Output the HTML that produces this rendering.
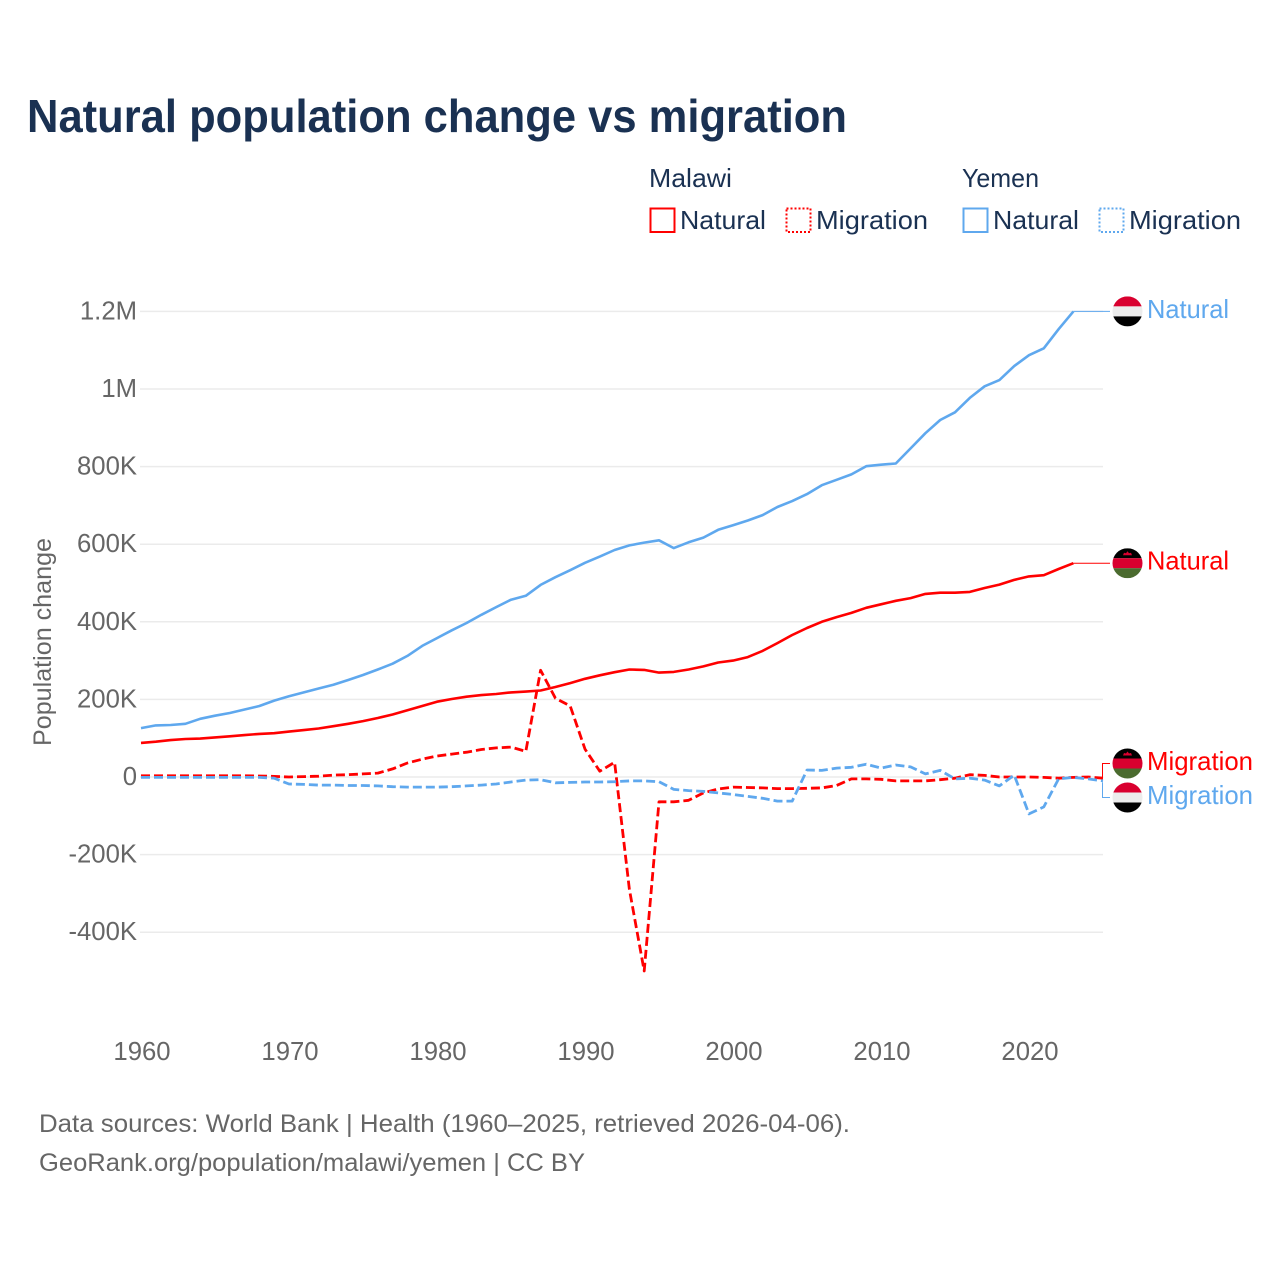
<!DOCTYPE html>
<html lang="en">
<head>
<meta charset="utf-8">
<title>Natural population change vs migration</title>
<style>
html,body{margin:0;padding:0;background:#fff;}
svg{display:block;font-family:"Liberation Sans",Arial,sans-serif;}
.tick{font-size:25.7px;fill:#666;}
.legend{font-size:26px;fill:#1a3152;}
.lab{font-size:26px;}
.src{font-size:25px;fill:#666;}
</style>
</head>
<body>
<svg id="chart" width="1280" height="1280" viewBox="0 0 1280 1280" xmlns="http://www.w3.org/2000/svg">
<defs>
<clipPath id="flag-clip"><circle cx="0" cy="0" r="15"/></clipPath>
</defs>
<rect width="1280" height="1280" fill="#fff"/>
<text x="27" y="132" font-size="46" font-weight="700" fill="#1a3152" textLength="820" lengthAdjust="spacingAndGlyphs">Natural population change vs migration</text>

<g>
<text class="legend" x="649" y="187" textLength="83" lengthAdjust="spacingAndGlyphs">Malawi</text>
<text class="legend" x="962" y="187" textLength="77" lengthAdjust="spacingAndGlyphs">Yemen</text>
<rect x="650.5" y="208.5" width="24" height="23.5" fill="none" stroke="#ff0000" stroke-width="2"/>
<text class="legend" x="680" y="229" textLength="86" lengthAdjust="spacingAndGlyphs">Natural</text>
<rect x="786.5" y="208.5" width="24" height="23.5" fill="none" stroke="#ff0000" stroke-width="2" stroke-dasharray="2 2"/>
<text class="legend" x="816" y="229" textLength="112" lengthAdjust="spacingAndGlyphs">Migration</text>
<rect x="963.5" y="208.5" width="24" height="23.5" fill="none" stroke="#5fa8ee" stroke-width="2"/>
<text class="legend" x="993" y="229" textLength="86" lengthAdjust="spacingAndGlyphs">Natural</text>
<rect x="1099.5" y="208.5" width="24" height="23.5" fill="none" stroke="#5fa8ee" stroke-width="2" stroke-dasharray="2 2"/>
<text class="legend" x="1129" y="229" textLength="112" lengthAdjust="spacingAndGlyphs">Migration</text>
</g>

<g id="grid"></g>
<g id="yticks"></g>
<g id="xticks"></g>
<text transform="translate(51,642) rotate(-90)" text-anchor="middle" font-size="25" fill="#666" textLength="208" lengthAdjust="spacingAndGlyphs">Population change</text>
<g id="series"></g>
<g id="connectors"></g>

<g id="flag-yemen-natural" clip-path="url(#flag-clip)">
<rect x="-15" y="-15" width="30" height="10" fill="#d9002f"/><rect x="-15" y="-5" width="30" height="10" fill="#ececec"/><rect x="-15" y="5" width="30" height="10" fill="#000"/>
</g>
<g id="flag-malawi-natural" clip-path="url(#flag-clip)">
<rect x="-15" y="-15" width="30" height="10" fill="#000"/><rect x="-15" y="-5" width="30" height="10" fill="#d9002f"/><rect x="-15" y="5" width="30" height="10" fill="#4b6b2f"/><path d="M-4.5 -8 L-3.5 -10.5 L-1.5 -10 L0 -12 L1.5 -10 L3.5 -10.5 L4.5 -8Z" fill="#d9002f"/>
</g>
<g transform="translate(1127.5,763.5)" clip-path="url(#flag-clip)">
<rect x="-15" y="-15" width="30" height="10" fill="#000"/><rect x="-15" y="-5" width="30" height="10" fill="#d9002f"/><rect x="-15" y="5" width="30" height="10" fill="#4b6b2f"/><path d="M-4.5 -8 L-3.5 -10.5 L-1.5 -10 L0 -12 L1.5 -10 L3.5 -10.5 L4.5 -8Z" fill="#d9002f"/>
</g>
<g transform="translate(1127.5,797.5)" clip-path="url(#flag-clip)">
<rect x="-15" y="-15" width="30" height="10" fill="#d9002f"/><rect x="-15" y="-5" width="30" height="10" fill="#ececec"/><rect x="-15" y="5" width="30" height="10" fill="#000"/>
</g>

<text id="label-yemen-natural" class="lab" x="1147" fill="#5fa8ee" textLength="82" lengthAdjust="spacingAndGlyphs">Natural</text>
<text id="label-malawi-natural" class="lab" x="1147" fill="#ff0000" textLength="82" lengthAdjust="spacingAndGlyphs">Natural</text>
<text class="lab" x="1147" y="770" fill="#ff0000" textLength="106" lengthAdjust="spacingAndGlyphs">Migration</text>
<text class="lab" x="1147" y="804" fill="#5fa8ee" textLength="106" lengthAdjust="spacingAndGlyphs">Migration</text>

<text class="src" x="39" y="1132" textLength="811" lengthAdjust="spacingAndGlyphs">Data sources: World Bank | Health (1960–2025, retrieved 2026-04-06).</text>
<text class="src" x="39" y="1171" textLength="546" lengthAdjust="spacingAndGlyphs">GeoRank.org/population/malawi/yemen | CC BY</text>
</svg>
<script>
// Values in thousands of people
const startYear = 1960;
const yTickValues = [1200, 1000, 800, 600, 400, 200, 0, -200, -400];
const yTickLabels = ['1.2M', '1M', '800K', '600K', '400K', '200K', '0', '-200K', '-400K'];
const xTickYears = [1960, 1970, 1980, 1990, 2000, 2010, 2020];
const yemenNatural = [126,133,134,137,150,158,165,174,183,197,208,218,228,238,250,263,277,292,312,338,358,378,397,418,438,457,467,495,515,533,552,568,585,597,604,610,590,605,617,637,649,661,675,696,711,729,752,766,780,801,805,808,847,886,920,940,977,1007,1023,1059,1087,1105,1154,1200];
const malawiNatural = [88,91,95,98,99,102,105,108,111,113,117,121,125,131,137,144,152,161,172,183,194,201,207,211,214,218,220,223,232,242,253,262,270,277,276,269,271,277,285,295,300,309,325,345,366,384,400,412,423,436,445,454,461,472,475,475,477,487,496,508,517,520,536,551];
const malawiMigration = [3,3,3,3,3,3,3,3,2.5,1.5,0,1,2,5,6,8,10,21,36,46,54,59,64,71,75,77,66,275,203,183,72,15,38,-290,-500,-64,-64,-60,-41,-31,-26,-27,-28,-30,-30,-29,-28,-22,-5,-5,-6,-10,-10,-10,-7,-3,6,4,0,0,0,-1,-3,-1,0,-3];
const yemenMigration = [-1,-1,-1,-1,-1,-1,-1,-1,-1,-3,-18,-19,-21,-21,-22,-22,-23,-25,-26,-26,-26,-25,-23,-21,-18,-13,-8,-7,-15,-14,-13,-13,-12,-10,-10,-12,-32,-35,-37,-41,-45,-50,-55,-62,-62,18,17,23,25,33,23,31,26,8,17,-5,-3,-8,-23,5,-95,-77,-5,-1,-5,-10];

const NS = 'http://www.w3.org/2000/svg';
const RED = '#ff0000';
const BLUE = '#5fa8ee';
function xScale(year) { return 141 + (year - startYear) * 14.8; }
function yScale(v) { return 777 - v * 0.388; }
function linePath(values) {
  return values.map(function (v, i) {
    return (i ? 'L' : 'M') + xScale(startYear + i).toFixed(1) + ' ' + yScale(v).toFixed(1);
  }).join(' ');
}
const grid = document.getElementById('grid');
const yticks = document.getElementById('yticks');
const xticks = document.getElementById('xticks');
const series = document.getElementById('series');
const connectors = document.getElementById('connectors');

yTickValues.forEach(function (v, i) {
  const ln = document.createElementNS(NS, 'line');
  
  
  ln.setAttribute('x1', 140);
  ln.setAttribute('x2', 1103);
  ln.setAttribute('y1', yScale(v));
  ln.setAttribute('y2', yScale(v));
  ln.setAttribute('stroke', '#ebebeb');
  ln.setAttribute('stroke-width', 1.5);
  grid.appendChild(ln);
  const t = document.createElementNS(NS, 'text');
  
  
  t.setAttribute('class', 'tick');
  t.setAttribute('x', 137);
  t.setAttribute('y', yScale(v) + 8);
  t.setAttribute('text-anchor', 'end');
  t.textContent = yTickLabels[i];
  yticks.appendChild(t);
});

xTickYears.forEach(function (yr) {
  const t = document.createElementNS(NS, 'text');
  
  
  t.setAttribute('class', 'tick');
  t.setAttribute('x', xScale(yr) + 1);
  t.setAttribute('y', 1060);
  t.setAttribute('text-anchor', 'middle');
  t.textContent = yr;
  xticks.appendChild(t);
});

function addLine(values, color, dashed, name) {
  const p = document.createElementNS(NS, 'path');
  
  
  p.setAttribute('d', linePath(values));
  p.setAttribute('fill', 'none');
  p.setAttribute('stroke', color);
  p.setAttribute('stroke-width', dashed ? 2.8 : 2.6);
  p.setAttribute('stroke-linejoin', 'round');
  if (dashed) p.setAttribute('stroke-dasharray', '9 4');
  series.appendChild(p);
}
addLine(malawiNatural, RED, false, 'line-malawi-natural');
addLine(yemenNatural, BLUE, false, 'line-yemen-natural');
addLine(malawiMigration, RED, true, 'line-malawi-migration');
addLine(yemenMigration, BLUE, true, 'line-yemen-migration');

function addConnector(d, color, name) {
  const p = document.createElementNS(NS, 'path');
  
  
  p.setAttribute('d', d);
  p.setAttribute('fill', 'none');
  p.setAttribute('stroke', color);
  p.setAttribute('stroke-width', 1);
  connectors.appendChild(p);
}
const yemenNatLast = yScale(yemenNatural[yemenNatural.length - 1]);
const malawiNatLast = yScale(malawiNatural[malawiNatural.length - 1]);
const lastNatX = xScale(startYear + yemenNatural.length - 1);
addConnector('M' + lastNatX + ' ' + yemenNatLast + ' H1110', BLUE, 'connector-yemen-natural');
addConnector('M' + lastNatX + ' ' + malawiNatLast + ' H1110', RED, 'connector-malawi-natural');
addConnector('M1103 ' + (yScale(malawiMigration[malawiMigration.length - 1]) - 0.5) + ' H1102.5 V763.5 H1110', RED, 'connector-malawi-migration');
addConnector('M1103 ' + (yScale(yemenMigration[yemenMigration.length - 1]) + 2) + ' H1102.5 V797.5 H1110', BLUE, 'connector-yemen-migration');

document.getElementById('flag-yemen-natural').setAttribute('transform', 'translate(1127.5,' + yemenNatLast + ')');
document.getElementById('flag-malawi-natural').setAttribute('transform', 'translate(1127.5,' + malawiNatLast + ')');
document.getElementById('label-yemen-natural').setAttribute('y', yemenNatLast + 6.5);
document.getElementById('label-malawi-natural').setAttribute('y', malawiNatLast + 6.5);
</script>
</body>
</html>
